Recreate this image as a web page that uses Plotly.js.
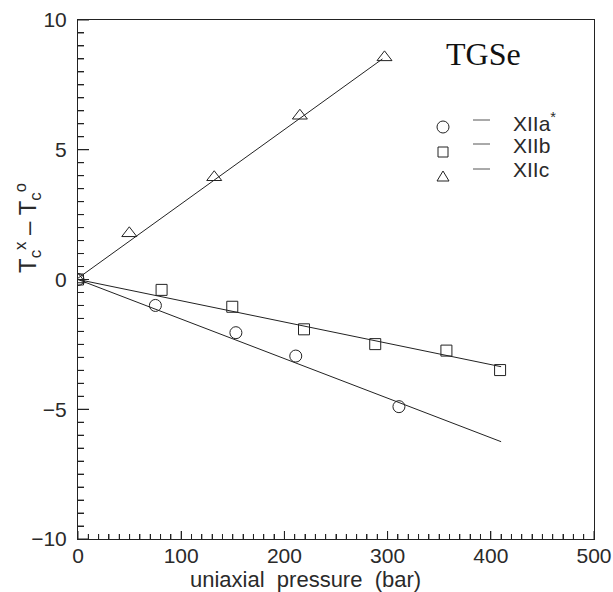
<!DOCTYPE html>
<html>
<head>
<meta charset="utf-8">
<script src="https://cdn.plot.ly/plotly-3.0.1.min.js"></script>
<style>
  html, body { margin: 0; padding: 0; background: #fff; }
  #chart { width: 613px; height: 592px; }
</style>
</head>
<body>
<div id="chart"></div>
<script>
// Shift of the transition temperature Tc under uniaxial pressure, TGSe crystal

// XIIa* : circles
const pressureA = [0, 75, 153, 211, 311];
const shiftA    = [0, -1.0, -2.05, -2.95, -4.9];
const fitA_x    = [0, 410];
const fitA_y    = [0, -6.25];

// XIIb : squares
const pressureB = [0, 81, 149.5, 219, 288, 357, 409];
const shiftB    = [0, -0.4, -1.05, -1.92, -2.49, -2.74, -3.49];
const fitB_x    = [0, 410];
const fitB_y    = [0, -3.36];

// XIIc : triangles
const pressureC = [0, 49.7, 132, 215, 297];
const shiftC    = [0, 1.78, 3.94, 6.31, 8.56];
const fitC_x    = [0, 295];
const fitC_y    = [0.05, 8.5];

const seriesNames = ['XIIa<sup>*</sup>', 'XIIb', 'XIIc'];
const xRange = [0, 500], yRange = [-10, 10];
const xTickStep = 100, xMinorStep = 10;
const yTickStep = 5, yMinorStep = 0.5;

const ink = '#222';
const textInk = '#2a2a2a';
const sans = 'Liberation Sans, Arial, sans-serif';

// plot-area geometry (pixels) used to place the hand-made key and titles
const W = 613, H = 592, L = 78, R = 19, T = 20, B = 53;
const pw = W - L - R, ph = H - T - B;
const px = v => (v - L) / pw;
const py = v => (H - B - v) / ph;
const xPerPx = (xRange[1] - xRange[0]) / pw;
const yPerPx = (yRange[1] - yRange[0]) / ph;

function pts(x, y, symbol, size) {
  return {
    x: x, y: y, type: 'scatter', mode: 'markers', showlegend: false,
    marker: { symbol: symbol, size: size, color: ink, line: { color: ink, width: 1 } },
    hoverinfo: 'skip'
  };
}
function fit(x, y) {
  return {
    x: x, y: y, type: 'scatter', mode: 'lines', showlegend: false,
    line: { color: ink, width: 1 }, hoverinfo: 'skip'
  };
}

// inward tick marks along the bottom and left frame edges, as broken line segments
const near = (a, b) => Math.abs(a - b) < 1e-6;
const tickX = [], tickY = [];
for (let k = 0; xRange[0] + k * xMinorStep <= xRange[1] + 1e-9; k++) {
  const v = xRange[0] + k * xMinorStep;
  const major = near(v / xTickStep, Math.round(v / xTickStep));
  tickX.push(v, v, null);
  tickY.push(yRange[0], yRange[0] + (major ? 8 : 5) * yPerPx, null);
}
for (let k = 0; yRange[0] + k * yMinorStep <= yRange[1] + 1e-9; k++) {
  const v = yRange[0] + k * yMinorStep;
  const major = near(v / yTickStep, Math.round(v / yTickStep));
  tickX.push(xRange[0], xRange[0] + (major ? 11 : 6) * xPerPx, null);
  tickY.push(v, v, null);
}
const tickTrace = {
  x: tickX, y: tickY, type: 'scatter', mode: 'lines', showlegend: false,
  connectgaps: false, line: { color: ink, width: 1 }, hoverinfo: 'skip'
};

const traces = [
  tickTrace,
  fit(fitA_x, fitA_y),
  fit(fitB_x, fitB_y),
  fit(fitC_x, fitC_y),
  pts(pressureA, shiftA, 'circle-open', 12),
  pts(pressureB, shiftB, 'square-open', 11),
  pts(pressureC, shiftC, 'triangle-up-open', 13)
];

const shapes = [];
const annotations = [];

// key: symbol, short dash, label
const keyX = 443;
const keyRows = [
  { sym: 'circle', symY: 127, dashY: 120, textY: 122 },
  { sym: 'square', symY: 152, dashY: 144, textY: 145 },
  { sym: 'triangle', symY: 177, dashY: 169, textY: 170 }
];
keyRows.forEach((r, i) => {
  const base = { xref: 'paper', yref: 'paper', line: { color: ink, width: 1 }, fillcolor: 'rgba(0,0,0,0)' };
  if (r.sym === 'circle') {
    shapes.push(Object.assign({ type: 'circle',
      x0: px(keyX - 6), x1: px(keyX + 6), y0: py(r.symY + 6), y1: py(r.symY - 6) }, base));
  } else if (r.sym === 'square') {
    shapes.push(Object.assign({ type: 'rect',
      x0: px(keyX - 5), x1: px(keyX + 5), y0: py(r.symY + 5), y1: py(r.symY - 5) }, base));
  } else {
    const p = 'M ' + px(keyX - 6) + ' ' + py(r.symY + 4) +
              ' L ' + px(keyX + 6) + ' ' + py(r.symY + 4) +
              ' L ' + px(keyX) + ' ' + py(r.symY - 6) + ' Z';
    shapes.push(Object.assign({ type: 'path', path: p }, base));
  }
  shapes.push({
    type: 'line', xref: 'paper', yref: 'paper',
    x0: px(473), x1: px(490), y0: py(r.dashY), y1: py(r.dashY),
    line: { color: '#555', width: 1 }
  });
  annotations.push({
    xref: 'paper', yref: 'paper', x: px(511), y: py(r.textY),
    xanchor: 'left', yanchor: 'middle', showarrow: false,
    text: seriesNames[i], font: { family: sans, size: 21, color: textInk }
  });
});

annotations.push({
  xref: 'paper', yref: 'paper', x: px(483), y: py(54),
  xanchor: 'center', yanchor: 'middle', showarrow: false,
  text: 'TGSe', font: { family: 'Liberation Serif, Times New Roman, serif', size: 32, color: '#111' }
});
annotations.push({
  xref: 'paper', yref: 'paper', x: px(305), y: py(579),
  xanchor: 'center', yanchor: 'middle', showarrow: false,
  text: 'uniaxial  pressure  (bar)', font: { family: sans, size: 22, color: textInk }
});
annotations.push({
  xref: 'paper', yref: 'paper', x: px(28), y: py(228),
  xanchor: 'center', yanchor: 'middle', showarrow: false, textangle: -90,
  text: 'T<sub>c</sub><sup>x</sup> – T<sub>c</sub><sup>o</sup>',
  font: { family: sans, size: 24, color: textInk }
});

const axisCommon = {
  showgrid: false, zeroline: false, showline: true, mirror: true,
  linecolor: ink, linewidth: 1, ticks: 'inside', tickcolor: ink, tickwidth: 1,
  tickmode: 'linear', tick0: 0,
  tickfont: { family: sans, size: 21, color: textInk }
};

const layout = {
  width: W, height: H,
  margin: { l: L, r: R, t: T, b: B, pad: 0, autoexpand: false },
  showlegend: false,
  xaxis: Object.assign({}, axisCommon, {
    range: xRange, dtick: xTickStep, ticklen: 8, ticklabelstandoff: -2,
    minor: { tick0: 0, dtick: xMinorStep, ticks: 'inside', ticklen: 5, tickcolor: ink, tickwidth: 1, showgrid: false }
  }),
  yaxis: Object.assign({}, axisCommon, {
    range: yRange, dtick: yTickStep, ticklen: 11, ticklabelstandoff: 6,
    minor: { tick0: 0, dtick: yMinorStep, ticks: 'inside', ticklen: 6, tickcolor: ink, tickwidth: 1, showgrid: false }
  }),
  shapes: shapes,
  annotations: annotations
};

Plotly.newPlot('chart', traces, layout, { staticPlot: true });
</script>
</body>
</html>
